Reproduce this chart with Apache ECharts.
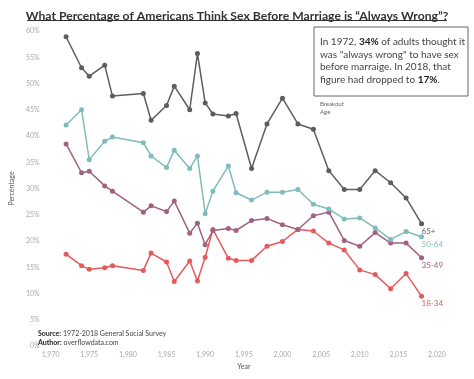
<!DOCTYPE html>
<html>
<head>
<meta charset="utf-8">
<script src="https://cdn.jsdelivr.net/npm/echarts@6/dist/echarts.min.js"></script>
<style>html,body{margin:0;padding:0;background:#fff;}#c{width:474px;height:379px;}</style>
</head>
<body>
<div id="c"></div>
<script>
const years = [1972,1974,1975,1977,1978,1982,1983,1985,1986,1988,1989,1990,1991,1993,1994,1996,1998,2000,2002,2004,2006,2008,2010,2012,2014,2016,2018];
const age65 = [58.9,53.0,51.4,53.5,47.6,48.1,43.0,45.8,49.5,45.0,55.7,46.3,44.2,43.8,44.3,33.8,42.3,47.2,42.3,41.3,33.4,29.8,29.8,33.4,31.1,28.2,23.3];
const age50 = [42.1,45.0,35.5,39.0,39.8,38.7,36.2,34.0,37.3,33.8,36.2,25.2,29.5,34.3,29.2,27.8,29.3,29.3,29.8,27.0,26.1,24.2,24.4,22.5,20.3,21.8,20.8];
const age35 = [38.5,33.0,33.3,30.5,29.5,25.5,26.7,25.6,27.6,21.5,23.4,19.3,22.0,22.4,22.0,23.9,24.3,23.1,22.2,24.8,25.5,20.1,19.0,21.6,19.6,19.6,16.8];
const age18 = [17.5,15.3,14.6,14.9,15.3,14.4,17.7,16.0,12.3,16.2,12.4,16.9,22.2,16.7,16.3,16.3,19.0,19.9,22.2,21.9,19.6,18.3,14.5,13.6,10.9,13.8,9.5];
const seriesNames = ['65+','50-64','35-49','18-34'];
const seriesColors = ['#5d5d5f','#7fbcbd','#a2617f','#e45b5c'];
const xTicks = {min:1970, max:2020, interval:5};
const yTicks = {min:0, max:60, interval:5};

const all = [age65, age50, age35, age18];
const series = all.map((vals, i) => ({
  name: seriesNames[i],
  type: 'line',
  data: vals.map((v, j) => {
    const d = {value:[years[j], v]};
    if (j === vals.length - 1) {
      d.label = {show:true, formatter: seriesNames[i], position:'bottom', distance:1,
        align:'left', verticalAlign:'top',
        color: seriesColors[i], fontSize:8, fontFamily:'Lato'};
    }
    return d;
  }),
  symbol:'circle', symbolSize:5,
  lineStyle:{width:1.5, color:seriesColors[i]},
  itemStyle:{color:seriesColors[i]},
  label:{show:false},
  labelLayout:{hideOverlap:false},
  z: 4 - i
}));

const chart = echarts.init(document.getElementById('c'), null, {renderer:'canvas'});
chart.setOption({
  animation:false,
  backgroundColor:'#fff',
  title:{
    text:'What Percentage of Americans Think Sex Before Marriage is \u201cAlways Wrong\u201d?',
    left:'center', top:5,
    textStyle:{fontFamily:'Lato', fontWeight:'bold', fontSize:12.2, color:'#333'}
  },
  grid:{left:43, right:37, top:31, bottom:33},
  xAxis:{
    type:'value', min:xTicks.min, max:xTicks.max, interval:xTicks.interval,
    name:'Year', nameLocation:'middle', nameGap:16,
    nameTextStyle:{fontFamily:'Lato', fontSize:7, color:'#555'},
    axisLine:{show:false}, axisTick:{show:false}, splitLine:{show:false},
    axisLabel:{fontFamily:'Lato', fontSize:7, color:'#aaa', margin:5}
  },
  yAxis:{
    type:'value', min:yTicks.min, max:yTicks.max, interval:yTicks.interval,
    name:'Percentage', nameLocation:'middle', nameGap:26, nameRotate:90,
    nameTextStyle:{fontFamily:'Lato', fontSize:7, color:'#555'},
    axisLine:{show:false}, axisTick:{show:false}, splitLine:{show:false},
    axisLabel:{fontFamily:'Lato', fontSize:7, color:'#aaa', margin:11, formatter: v => v + '%'}
  },
  graphic:[
    {type:'line', shape:{x1:27, y1:20.5, x2:447, y2:20.5}, style:{stroke:'#333', lineWidth:1}},
    {type:'rect', shape:{x:314, y:27, width:154, height:69}, style:{fill:'#fff', stroke:'#666', lineWidth:1}},
    {type:'text', left:320, top:36, style:{
      text:'In 1972, {b|34%} of adults thought it\nwas "always wrong" to have sex\nbefore marraige. In 2018, that\nfigure had dropped to {b|17%}.',
      fontFamily:'Lato', fontSize:10, lineHeight:12.5, fill:'#444',
      rich:{b:{fontFamily:'Lato', fontWeight:'bold', fontSize:10, lineHeight:12.5, fill:'#222'}}
    }},
    {type:'text', left:320, top:100, style:{text:'Breakout\nAge', fontFamily:'Lato', fontSize:6, lineHeight:8, fill:'#666'}},
    {type:'text', left:38, top:329, style:{
      text:'{b|Source:} 1972-2018 General Social Survey\n{b|Author:} overflowdata.com',
      fontFamily:'Lato', fontSize:7, lineHeight:9, fill:'#444',
      rich:{b:{fontFamily:'Lato', fontWeight:'bold', fontSize:7, lineHeight:9, fill:'#222'}}
    }}
  ],
  series: series
});
</script>
</body>
</html>
